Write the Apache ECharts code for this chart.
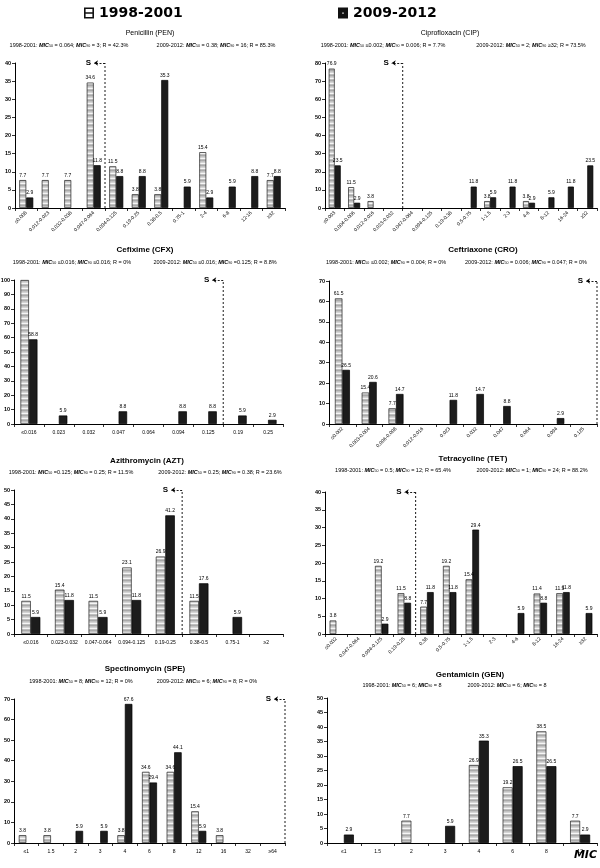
<!DOCTYPE html>
<html><head><meta charset="utf-8">
<script src="https://cdn.jsdelivr.net/npm/echarts@6/dist/echarts.min.js"></script>
<style>html,body{margin:0;padding:0;background:#fff}#c{width:600px;height:868px}</style>
</head><body><div id="c"></div>
<script>
// ---------- DATA ----------
const seriesNames = ['1998-2001', '2009-2012'];

const penCats = ['≤0.008','0.012-0.023','0.032-0.038','0.047-0.064','0.094-0.125','0.19-0.25','0.38-0.5','0.75-1','2-4','6-8','12-16','≥32'];
const pen1998 = [7.7,7.7,7.7,34.6,11.5,3.8,3.8,null,15.4,null,null,7.7];
const pen2009 = [2.9,null,null,11.8,8.8,8.8,35.3,5.9,2.9,5.9,8.8,8.8];

const cipCats = ['≤0.003','0.004-0.006','0.012-0.016','0.023-0.032','0.047-0.064','0.094-0.125','0.19-0.38','0.5-0.75','1-1.5','2-3','4-6','8-12','16-24','≥32'];
const cip1998 = [76.9,11.5,3.8,null,null,null,null,null,3.8,null,3.8,null,null,null];
const cip2009 = [23.5,2.9,null,null,null,null,null,11.8,5.9,11.8,2.9,5.9,11.8,23.5];

const cfxCats = ['≤0.016','0.023','0.032','0.047','0.064','0.094','0.125','0.19','0.25'];
const cfx1998 = [100,null,null,null,null,null,null,null,null];
const cfx2009 = [58.8,5.9,null,8.8,null,8.8,8.8,5.9,2.9];

const croCats = ['≤0.002','0.003-0.004','0.006-0.008','0.012-0.016','0.023','0.032','0.047','0.064','0.094','0.125'];
const cro1998 = [61.5,15.4,7.7,null,null,null,null,null,null,null];
const cro2009 = [26.5,20.6,14.7,null,11.8,14.7,8.8,null,2.9,null];

const aztCats = ['≤0.016','0.023-0.032','0.047-0.064','0.094-0.125','0.19-0.25','0.38-0.5','0.75-1','≥2'];
const azt1998 = [11.5,15.4,11.5,23.1,26.9,11.5,null,null];
const azt2009 = [5.9,11.8,5.9,11.8,41.2,17.6,5.9,null];

const tetCats = ['≤0.032','0.047-0.064','0.094-0.125','0.19-0.25','0.38','0.5-0.75','1-1.5','2-3','4-6','8-12','16-24','≥32'];
const tet1998 = [3.8,null,19.2,11.5,7.7,19.2,15.4,null,null,11.4,11.5,null];
const tet2009 = [null,null,2.9,8.8,11.8,11.8,29.4,null,5.9,8.8,11.8,5.9];

const speCats = ['≤1','1.5','2','3','4','6','8','12','16','32','≥64'];
const spe1998 = [3.8,3.8,null,null,3.8,34.6,34.6,15.4,3.8,null,null];
const spe2009 = [null,null,5.9,5.9,67.6,29.4,44.1,5.9,null,null,null];

const genCats = ['≤1','1.5','2','3','4','6','8','12'];
const gen1998 = [null,null,7.7,null,26.9,19.2,38.5,7.7];
const gen2009 = [2.9,null,null,5.9,35.3,26.5,26.5,2.9];

// y-axis maxima and tick steps
const yMax = [40, 80, 100, 70, 50, 40, 70, 50];
const yStep = [5, 10, 10, 10, 5, 5, 10, 5];
// susceptibility breakpoint (category boundary index), null = none
const sBreak = [4, 4, 7, 10, 5, 4, 11, null];

const titles = ['Penicillin (PEN)','Ciprofloxacin (CIP)','Cefixime (CFX)','Ceftriaxone (CRO)','Azithromycin (AZT)','Tetracycline (TET)','Spectinomycin (SPE)','Gentamicin (GEN)'];
const subs = [
 ['1998-2001: MIC50 = 0.064; MIC90 = 3; R = 42.3%','2009-2012: MIC50 = 0.38; MIC90 = 16; R = 85.3%'],
 ['1998-2001: MIC50 ≤0.002; MIC90 = 0.006; R = 7.7%','2009-2012: MIC50 = 2; MIC90 ≥32; R = 73.5%'],
 ['1998-2001: MIC50 ≤0.016; MIC90 ≤0.016; R = 0%','2009-2012: MIC50 ≤0.016; MIC90 =0.125; R = 8.8%'],
 ['1998-2001: MIC50 ≤0.002; MIC90 = 0.004; R = 0%','2009-2012: MIC50 = 0.006; MIC90 = 0.047; R = 0%'],
 ['1998-2001: MIC50 =0.125; MIC90 = 0.25; R = 11.5%','2009-2012: MIC50 = 0.25; MIC90 = 0.38; R = 23.6%'],
 ['1998-2001: MIC50 = 0.5; MIC90 = 12; R = 65.4%','2009-2012: MIC50 = 1; MIC90 = 24; R = 88.2%'],
 ['1998-2001: MIC50 = 8; MIC90 = 12; R = 0%','2009-2012: MIC50 = 6; MIC90 = 8; R = 0%'],
 ['1998-2001: MIC50 = 6; MIC90 = 8','2009-2012: MIC50 = 6; MIC90 = 8']
];

// ---------- LAYOUT ----------
const dataSets = [
 [penCats, pen1998, pen2009],[cipCats, cip1998, cip2009],[cfxCats, cfx1998, cfx2009],[croCats, cro1998, cro2009],
 [aztCats, azt1998, azt2009],[tetCats, tet1998, tet2009],[speCats, spe1998, spe2009],[genCats, gen1998, gen2009]
];
const layout = [
 {g:[15,63,270,145], rot:45, bw:7, tx:150, ty:33, tb:false, sx:[69,216], sy:45},
 {g:[325,63,272,145], rot:45, bw:6, tx:450, ty:33, tb:false, sx:[383,531], sy:45},
 {g:[14,280,269,144], rot:0, bw:8.5, tx:145, ty:250, tb:true, sx:[72,215], sy:262},
 {g:[329,281,268,143], rot:45, bw:7.5, tx:483, ty:250, tb:true, sx:[386,526], sy:262},
 {g:[14,490,269,144], rot:0, bw:9.5, tx:147, ty:461, tb:true, sx:[71,220], sy:472},
 {g:[325,492,272,142], rot:45, bw:6.7, tx:473, ty:459, tb:true, sx:[393,532], sy:470},
 {g:[14,699,271,144], rot:0, bw:7.5, tx:145, ty:669, tb:true, sx:[81,207], sy:681},
 {g:[327,698,270,145], rot:0, bw:10, tx:470, ty:675, tb:true, sx:[402,507], sy:685}
];

const FONT = 'Liberation Sans';

// stripe pattern for 1998-2001 bars
const pc = document.createElement('canvas'); pc.width = 4; pc.height = 5;
const pctx = pc.getContext('2d');
['#a9a9a9','#c2c2c2','#d4d4d4','#f6f6f6','#bebebe'].forEach((c,k)=>{pctx.fillStyle=c;pctx.fillRect(0,k,4,1);});
const stripe = {image: pc, repeat: 'repeat'};

function richify(s){ return s.replace(/MIC(50|90)/g, '{i|MIC}{s|$1}'); }
const richStyles = {
  i:{fontStyle:'italic', fontWeight:'bold', fontSize:5.5, fontFamily:FONT, fill:'#000'},
  s:{fontSize:3.6, fontFamily:FONT, verticalAlign:'bottom', fill:'#000'}
};

const option = {animation:false, backgroundColor:'#fff', grid:[], xAxis:[], yAxis:[], series:[], graphic:[], legend:[]};

dataSets.forEach((d,i)=>{
  const L = layout[i];
  const [cats, a, b] = d;
  option.grid.push({left:L.g[0], top:L.g[1], width:L.g[2], height:L.g[3], containLabel:false, outerBoundsMode:'none'});
  option.xAxis.push({type:'category', gridIndex:i, data:cats,
    axisLine:{show:true, lineStyle:{color:'#000', width:1}},
    axisTick:{show:true, length:3, lineStyle:{color:'#000', width:0.8}},
    axisLabel:{interval:0, rotate:L.rot, fontSize:5, color:'#000', margin:L.rot?4:6, fontFamily:FONT},
    splitLine:{show:false}});
  option.yAxis.push({type:'value', gridIndex:i, min:0, max:yMax[i], interval:yStep[i],
    axisLine:{show:true, lineStyle:{color:'#000', width:1}},
    axisTick:{show:true, length:3, lineStyle:{color:'#000', width:0.8}},
    axisLabel:{fontSize:5.5, color:'#000', margin:4, fontFamily:FONT, fontWeight:'bold'},
    splitLine:{show:false}});
  const lab = {show:true, position:'top', distance:2, fontSize:5, color:'#000', fontFamily:FONT,
    formatter:(p)=> (p.value==null || p.value>=yMax[i]) ? '' : String(p.value)};
  option.series.push({type:'bar', name:seriesNames[0], xAxisIndex:i, yAxisIndex:i, data:a, barWidth:L.bw, barGap:'0%',
    itemStyle:{color:stripe, borderColor:'#222', borderWidth:0.7}, label:lab});
  option.series.push({type:'bar', name:seriesNames[1], xAxisIndex:i, yAxisIndex:i, data:b, barWidth:L.bw, barGap:'0%',
    itemStyle:{color:'#1c1c1c', borderColor:'#000', borderWidth:0.7}, label:lab});

  // titles
  option.graphic.push({type:'text', x:L.tx, y:L.ty, silent:true, style:{text:titles[i], fill:'#000', fontSize:L.tb?8:7,
    fontWeight:L.tb?'bold':'normal', fontFamily:FONT, align:'center', verticalAlign:'middle'}});
  subs[i].forEach((s,k)=>{
    option.graphic.push({type:'text', x:L.sx[k], y:L.sy, silent:true, style:{text:richify(s), rich:richStyles, fill:'#000',
      fontSize:5.5, fontFamily:FONT, align:'center', verticalAlign:'middle'}});
  });
});

// susceptibility breakpoint lines
dataSets.forEach((d,i)=>{
  if (sBreak[i] == null) return;
  const n = d[0].length, L = layout[i];
  const xi = option.xAxis.length;
  option.xAxis.push({type:'value', gridIndex:i, min:0, max:n, show:false});
  const arrowLen = 11 / (L.g[2] / n);
  option.series.push({type:'line', xAxisIndex:xi, yAxisIndex:i, silent:true, symbol:'none', z:5,
    data:[[sBreak[i],0],[sBreak[i],yMax[i]]],
    lineStyle:{type:[2,2], width:0.9, color:'#000'},
    markLine:{silent:true, symbol:['none','arrow'], symbolSize:4,
      lineStyle:{type:[2,1.5], width:0.9, color:'#000'},
      label:{show:true, position:'end', formatter:'S', fontSize:8, fontWeight:'bold', color:'#000', fontFamily:FONT, distance:3},
      data:[[{coord:[sBreak[i], yMax[i]]},{coord:[sBreak[i]-arrowLen, yMax[i]]}]]}
  });
});

const iconA = 'path://M0,0L10,0L10,11L0,11Z M1.6,1.6L1.6,4.8L8.4,4.8L8.4,1.6Z M1.6,6.2L1.6,9.4L8.4,9.4L8.4,6.2Z';
const iconB = 'path://M0,0L10,0L10,11L0,11Z M4.3,4.9L4.3,6.3L5.7,6.3L5.7,4.9Z';
const legText = {fontSize:14, fontWeight:'bold', color:'#000', fontFamily:'DejaVu Sans'};
option.legend.push({left:84, top:6, padding:0, itemWidth:10, itemHeight:11, selectedMode:false, textStyle:legText,
  data:[{name:seriesNames[0], icon:iconA, itemStyle:{color:'#111', borderWidth:0}}]});
option.legend.push({left:338, top:6, padding:0, itemWidth:10, itemHeight:11, selectedMode:false, textStyle:legText,
  data:[{name:seriesNames[1], icon:iconB, itemStyle:{color:'#111', borderWidth:0}}]});

option.graphic.push({type:'text', x:597, y:855, silent:true, style:{text:'MIC', fill:'#000', fontSize:11, fontWeight:'bold',
  fontStyle:'italic', fontFamily:'DejaVu Sans', align:'right', verticalAlign:'middle'}});

const chart = echarts.init(document.getElementById('c'), null, {renderer:'canvas'});
chart.setOption(option);
</script>
</body></html>
